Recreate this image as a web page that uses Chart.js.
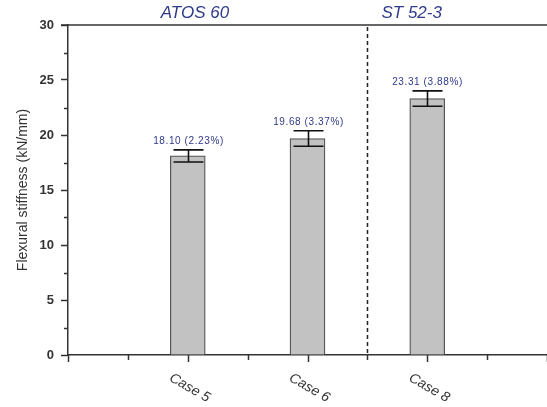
<!DOCTYPE html>
<html>
<head>
<meta charset="utf-8">
<script src="https://cdn.jsdelivr.net/npm/chart.js@4/dist/chart.umd.min.js"></script>
<style>
  html, body { margin: 0; padding: 0; background: #fff; }
  #wrap { width: 547px; height: 407px; }
</style>
</head>
<body>
<div id="wrap"><canvas id="c" width="547" height="407"></canvas></div>
<script>
// Flexural stiffness per specimen (kN/mm), scatter (error bar half-height) and coefficient of variation
const categories = ['Case 5', 'Case 6', 'Case 8'];
const stiffness = [18.10, 19.68, 23.31];
const scatter = [0.55, 0.70, 0.70];
const covLabels = ['2.23%', '3.37%', '3.88%'];
const groupNames = ['ATOS 60', 'ST 52-3'];
const yTickLabels = [0, 5, 10, 15, 20, 25, 30];

const FONT = '"Liberation Sans", Arial, Helvetica, sans-serif';
const AXIS = '#333333';
const NAVY = '#2e3a8a';

// Bars sit at 1, 2, 3 on a 0..4 axis; materials are split at 2.5
const barData = stiffness.map((v, i) => ({ x: i + 1, y: v }));

const overlay = {
  id: 'overlay',
  afterDatasetsDraw(chart) {
    const ctx = chart.ctx;
    const xs = chart.scales.x, ys = chart.scales.y;
    const area = chart.chartArea;
    ctx.save();

    // top frame line
    ctx.strokeStyle = AXIS;
    ctx.lineWidth = 1.5;
    ctx.beginPath();
    ctx.moveTo(area.left - 7, ys.getPixelForValue(30));
    ctx.lineTo(area.right, ys.getPixelForValue(30));
    ctx.stroke();

    // x ticks: integer positions long, half steps short
    ctx.lineWidth = 1.5;
    for (let v = 0; v <= 4.001; v += 0.5) {
      const px = Math.round(xs.getPixelForValue(v)) + 0.5;
      const len = Number.isInteger(v) ? 7 : 5;
      ctx.beginPath();
      ctx.moveTo(px, area.bottom);
      ctx.lineTo(px, area.bottom + len);
      ctx.stroke();
    }
    // y minor ticks between the labelled ones
    for (let v = 2.5; v < 30; v += 5) {
      const py = Math.round(ys.getPixelForValue(v)) + 0.5;
      ctx.beginPath();
      ctx.moveTo(area.left - 4, py);
      ctx.lineTo(area.left, py);
      ctx.stroke();
    }

    // material divider
    const dx = Math.round(xs.getPixelForValue(2.5)) + 0.5;
    ctx.setLineDash([4, 3]);
    ctx.strokeStyle = '#222';
    ctx.lineWidth = 1.5;
    ctx.beginPath();
    ctx.moveTo(dx, area.top + 2);
    ctx.lineTo(dx, area.bottom);
    ctx.stroke();
    ctx.setLineDash([]);

    // error bars
    const meta = chart.getDatasetMeta(0);
    ctx.strokeStyle = '#111';
    ctx.lineWidth = 1.6;
    meta.data.forEach((bar, i) => {
      const cx = Math.round(bar.x) + 0.5;
      const hi = ys.getPixelForValue(stiffness[i] + scatter[i]);
      const lo = ys.getPixelForValue(stiffness[i] - scatter[i]);
      const half = 15;
      ctx.beginPath();
      ctx.moveTo(cx, hi); ctx.lineTo(cx, lo);
      ctx.moveTo(cx - half, hi); ctx.lineTo(cx + half, hi);
      ctx.moveTo(cx - half, lo); ctx.lineTo(cx + half, lo);
      ctx.stroke();

      // value label above the error bar
      ctx.fillStyle = NAVY;
      ctx.font = '10px ' + FONT;
      ctx.letterSpacing = '0.6px';
      ctx.textAlign = 'center';
      ctx.textBaseline = 'middle';
      ctx.fillText(stiffness[i].toFixed(2) + ' (' + covLabels[i] + ')', cx, hi - 9);
      ctx.letterSpacing = '0px';
    });

    // material names over the plot
    ctx.fillStyle = NAVY;
    ctx.font = 'italic 17px ' + FONT;
    ctx.textAlign = 'center';
    ctx.textBaseline = 'middle';
    ctx.fillText(groupNames[0], xs.getPixelForValue(1.06), 13);
    ctx.fillText(groupNames[1], xs.getPixelForValue(2.87), 13);

    // slanted category labels
    ctx.fillStyle = '#333';
    ctx.font = 'italic 14px ' + FONT;
    categories.forEach((name, i) => {
      const px = xs.getPixelForValue(i + 1);
      ctx.save();
      ctx.translate(px + 2, area.bottom + 33);
      ctx.rotate(Math.PI / 6);
      ctx.textAlign = 'center';
      ctx.textBaseline = 'middle';
      ctx.fillText(name, 0, 0);
      ctx.restore();
    });

    ctx.restore();
  }
};

new Chart(document.getElementById('c'), {
  type: 'bar',
  data: {
    datasets: [{
      data: barData,
      backgroundColor: '#c2c2c2',
      borderColor: '#555555',
      borderWidth: 1.3,
      barThickness: 35
    }]
  },
  options: {
    responsive: false,
    animation: false,
    devicePixelRatio: 1,
    layout: { padding: { top: 25, right: 0, left: 0, bottom: 0 } },
    plugins: { legend: { display: false }, tooltip: { enabled: false } },
    scales: {
      x: {
        type: 'linear',
        offset: false,
        min: 0, max: 4,
        ticks: { display: false, stepSize: 0.5 },
        grid: { display: false, offset: false },
        border: { display: true, color: AXIS, width: 1.5 },
        afterFit(s) { s.height = 52; }
      },
      y: {
        min: 0, max: 30,
        afterBuildTicks(s) { s.ticks = yTickLabels.map(v => ({ value: v })); },
        ticks: {
          color: '#333',
          padding: 7,
          font: { family: FONT, size: 13, weight: 'bold' }
        },
        grid: { drawOnChartArea: false, tickLength: 7, tickColor: AXIS, tickWidth: 1.5 },
        border: { display: true, color: AXIS, width: 1.5 },
        title: {
          display: true,
          text: 'Flexural stiffness (kN/mm)',
          color: '#333',
          font: { family: FONT, size: 14 },
          padding: { top: 15, bottom: 0 }
        },
        afterFit(s) { s.width = 68; }
      }
    }
  },
  plugins: [overlay]
});
</script>
</body>
</html>
